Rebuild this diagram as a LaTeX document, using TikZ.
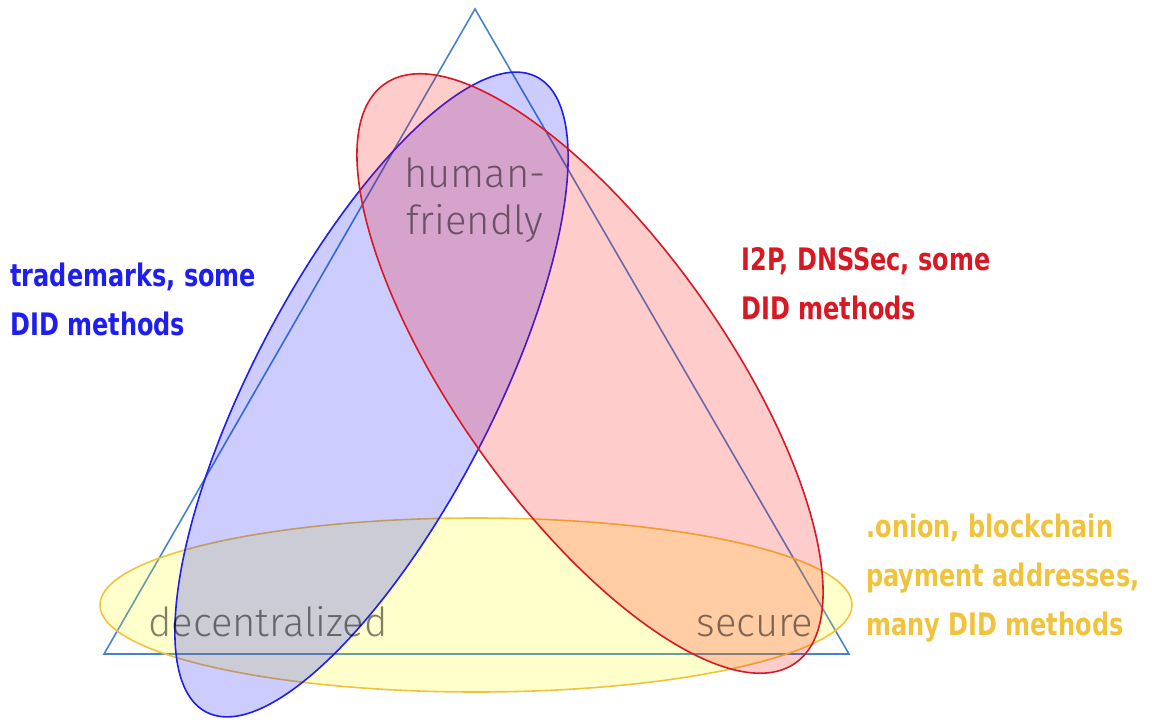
\documentclass[tikz,border=0pt]{standalone}
\usepackage{xcolor}
\usepackage{fontspec}
\usepackage{tikz}
\newfontfamily\labelfont[FakeStretch=0.86]{DejaVu Sans Condensed}
\newfontfamily\innerfont{Fira Sans Light}

\definecolor{triblue}{RGB}{70,130,205}
\definecolor{setblue}{RGB}{30,30,240}
\definecolor{setred}{RGB}{215,25,35}
\definecolor{setyellow}{RGB}{240,195,60}
\definecolor{fillblue}{RGB}{0,0,255}
\definecolor{fillred}{RGB}{255,0,0}
\definecolor{fillyellow}{RGB}{255,255,0}

\begin{document}
\begin{tikzpicture}[
    x=0.5pt, y=0.5pt,
    set/.style={line width=0.8pt, fill opacity=0.2},
    outer/.style={
        inner sep=0pt, anchor=north west, align=left,
        font=\labelfont\bfseries\fontsize{15.5pt}{24.5pt}\selectfont
    },
    inner/.style={
        inner sep=0pt, text=black, text opacity=0.5,
        font=\innerfont\fontsize{20pt}{23.5pt}\selectfont
    }
]
\useasboundingbox (0,0) rectangle (1152,719);

% triangle
\draw[triblue, line width=0.8pt] (475,710) -- (104,65) -- (849,65) -- cycle;

% the three sets
\draw[set, setyellow, fill=fillyellow] (476,114) ellipse [x radius=376, y radius=87];
\draw[set, setblue, fill=fillblue, shift={(371.5,324.5)}, rotate=62.5]
    (0,0) ellipse [x radius=358, y radius=120];
\draw[set, setred, fill=fillred, shift={(590,345.5)}, rotate=125.4]
    (0,0) ellipse [x radius=355, y radius=134.5];

% corner labels
\node[inner, anchor=north, align=center] (human) at (475,562) {human-\\friendly};
\node[inner, anchor=base] (decent) at (268,83) {decentralized};
\node[inner, anchor=base] (secure) at (755,83) {secure};

% examples
\node[outer, text=setblue] (trade) at (10,456) {trademarks, some\\DID methods};
\node[outer, text=setred] (dnssec) at (741,472) {I2P, DNSSec, some\\DID methods};
\node[outer, text=setyellow] (onion) at (866,205) {.onion, blockchain\\payment addresses,\\many DID methods};
\end{tikzpicture}
\end{document}
